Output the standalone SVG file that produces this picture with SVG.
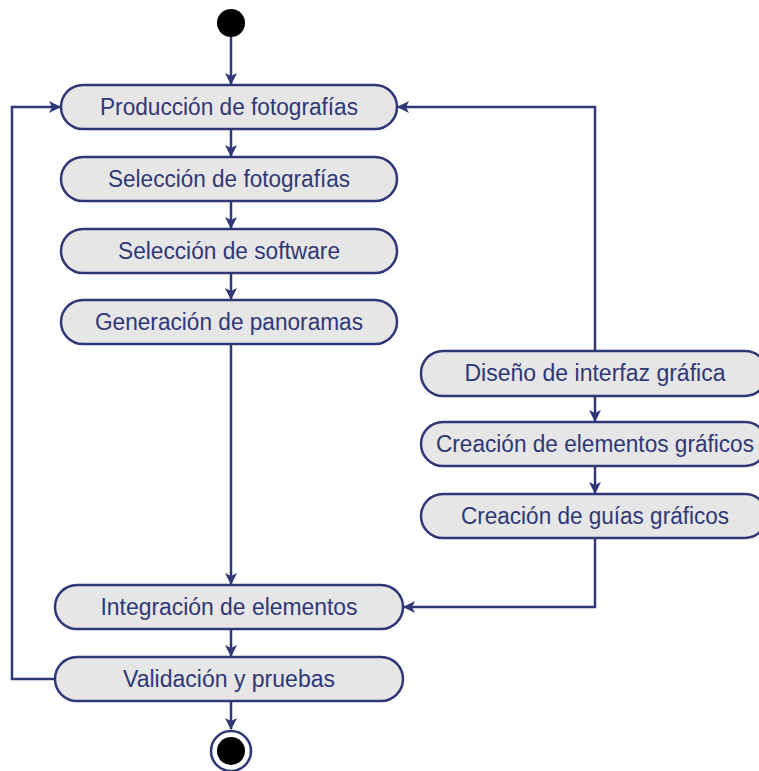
<svg xmlns="http://www.w3.org/2000/svg" width="759" height="771" viewBox="0 0 759 771">
<defs>
<marker id="ah" markerWidth="12" markerHeight="12" viewBox="0 0 12 12" refX="11" refY="6" orient="auto" markerUnits="userSpaceOnUse">
<path d="M0,0 L12,6 L0,12 L3,6 Z" fill="#2f3877"/>
</marker>
<style>
.n{fill:#e6e6e6;stroke:#2f3877;stroke-width:2.5}
.t{font-family:"Liberation Sans",Arial,sans-serif;font-size:23px;fill:#2f3877;text-anchor:middle;dominant-baseline:central}
.c{fill:none;stroke:#2f3877;stroke-width:2.5}
</style>
</defs>
<rect width="759" height="771" fill="#fff"/>
<g id="connectors">
<path class="c" d="M231,23 V84" marker-end="url(#ah)"/>
<path class="c" d="M231,129 V156" marker-end="url(#ah)"/>
<path class="c" d="M231,201 V228" marker-end="url(#ah)"/>
<path class="c" d="M231,273 V299" marker-end="url(#ah)"/>
<path class="c" d="M231,344 V584" marker-end="url(#ah)"/>
<path class="c" d="M231,629 V656" marker-end="url(#ah)"/>
<path class="c" d="M231,701 V729" marker-end="url(#ah)"/>
<path class="c" d="M595,350 V107 H398" marker-end="url(#ah)"/>
<path class="c" d="M595,396 V421" marker-end="url(#ah)"/>
<path class="c" d="M595,466 V493" marker-end="url(#ah)"/>
<path class="c" d="M595,538 V607 H404" marker-end="url(#ah)"/>
<path class="c" d="M55,679 H12 V107 H60" marker-end="url(#ah)"/>
</g>
<g id="start"><circle cx="231" cy="23" r="14" fill="#000"/></g>
<g id="n1"><rect class="n" x="61" y="85" width="336" height="44" rx="22"/><text class="t" x="229" y="107" textLength="258" lengthAdjust="spacingAndGlyphs">Producción de fotografías</text></g>
<g id="n2"><rect class="n" x="61" y="157" width="336" height="44" rx="22"/><text class="t" x="229" y="179" textLength="242" lengthAdjust="spacingAndGlyphs">Selección de fotografías</text></g>
<g id="n3"><rect class="n" x="61" y="229" width="336" height="44" rx="22"/><text class="t" x="229" y="251" textLength="222" lengthAdjust="spacingAndGlyphs">Selección de software</text></g>
<g id="n4"><rect class="n" x="61" y="300" width="336" height="44" rx="22"/><text class="t" x="229" y="322" textLength="268" lengthAdjust="spacingAndGlyphs">Generación de panoramas</text></g>
<g id="n5"><rect class="n" x="421" y="351" width="346" height="45" rx="22"/><text class="t" x="595" y="373" textLength="261" lengthAdjust="spacingAndGlyphs">Diseño de interfaz gráfica</text></g>
<g id="n6"><rect class="n" x="421" y="422" width="346" height="44" rx="22"/><text class="t" x="595" y="444" textLength="318" lengthAdjust="spacingAndGlyphs">Creación de elementos gráficos</text></g>
<g id="n7"><rect class="n" x="421" y="494" width="346" height="44" rx="22"/><text class="t" x="595" y="516" textLength="268" lengthAdjust="spacingAndGlyphs">Creación de guías gráficos</text></g>
<g id="n8"><rect class="n" x="55" y="585" width="348" height="44" rx="22"/><text class="t" x="229" y="607" textLength="257" lengthAdjust="spacingAndGlyphs">Integración de elementos</text></g>
<g id="n9"><rect class="n" x="55" y="657" width="348" height="44" rx="22"/><text class="t" x="229" y="679" textLength="212" lengthAdjust="spacingAndGlyphs">Validación y pruebas</text></g>
<g id="end"><circle cx="231" cy="751" r="20" fill="#fff" stroke="#2f3877" stroke-width="2.5"/><circle cx="231" cy="751" r="14" fill="#000"/></g>
</svg>
